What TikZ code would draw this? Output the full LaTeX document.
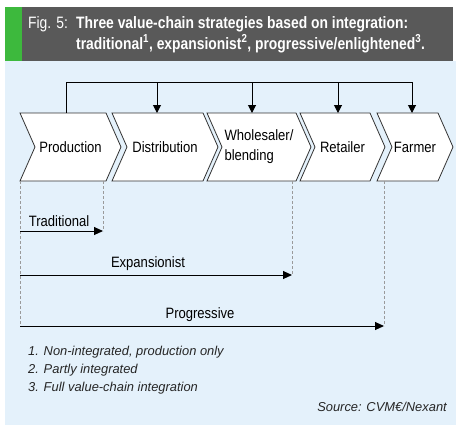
\documentclass[tikz,border=0pt]{standalone}
\usepackage{fontspec}
\setmainfont{Liberation Sans}
\newfontfamily\labf[FakeStretch=0.87]{Liberation Sans}
\newfontfamily\headf[FakeStretch=0.84]{Liberation Sans}
\usetikzlibrary{arrows.meta}
\definecolor{bgblue}{HTML}{E4F1FB}
\definecolor{hdgray}{HTML}{595959}
\definecolor{hdgreen}{HTML}{3DB93D}
\definecolor{dashgray}{HTML}{9A9A9A}
\definecolor{edgegray}{HTML}{333333}
\newcommand\chevron[5]{%
  \draw[chev] (#1,113) -- (#1+15,147) -- (#1,181) -- (#2,181) -- (#2+15,147) -- (#2,113) -- cycle;
  \node[lab,#5] (#3) at ({(#1+#2+15)/2},147) {#4};}
\begin{document}
\begin{tikzpicture}[x=1pt,y=-1pt,
  chev/.style={draw=edgegray, fill=white, line width=0.8pt, line join=miter},
  lab/.style={font=\labf\fontsize{15}{20}\selectfont, inner sep=0pt, align=center},
  feed/.style={draw=black, line width=1pt, -{Triangle[width=8pt,length=8pt]}},
  link/.style={draw=black, line width=1pt},
  span/.style={draw=black, line width=1pt, -{Triangle[width=8pt,length=9pt]}},
  guide/.style={draw=dashgray, dash pattern=on 3pt off 2pt, line width=0.7pt},
  note/.style={font=\itshape\fontsize{12.9}{15}\selectfont, inner sep=0pt, text=black!85},
  head/.style={font=\headf\fontsize{16.5}{20}\selectfont, text=white, inner sep=0pt, anchor=base west}]
\useasboundingbox (0,0) rectangle (458,429);
\fill[bgblue] (5,61) rectangle (456,425);
\fill[hdgreen] (5,7) rectangle (22,61);
\fill[hdgray] (22,7) rectangle (453,61);
\node[head] (fig) at (28,28) {Fig. 5:};
\node[head, font=\headf\bfseries\fontsize{16.5}{20}\selectfont] (t1) at (76,28) {Three value-chain strategies based on integration:};
\node[head, font=\headf\bfseries\fontsize{16.5}{20}\selectfont] (t2) at (76,49) {traditional\textsuperscript{1}, expansionist\textsuperscript{2}, progressive/enlightened\textsuperscript{3}.};
% chevrons
\chevron{20}{106}{prod}{Production}{}
\chevron{112}{203}{dist}{Distribution}{}
\chevron{207}{296}{whol}{Wholesaler/\\blending}{align=left}
\chevron{300}{370}{ret}{Retailer}{}
\chevron{377}{438}{farm}{Farmer}{}
% bracket connectors
\coordinate (pTop) at (66,113);
\coordinate (pJ) at (66,82);
\coordinate (dJ) at (157,82);
\coordinate (dTop) at (157,113);
\coordinate (wJ) at (252,82);
\coordinate (wTop) at (252,113);
\coordinate (rJ) at (338,82);
\coordinate (rTop) at (338,113);
\coordinate (fJ) at (412,82);
\coordinate (fTop) at (412,113);
\draw[link] (pTop) -- (pJ) -- (fJ);
\draw[feed] (dJ) -- (dTop);
\draw[feed] (wJ) -- (wTop);
\draw[feed] (rJ) -- (rTop);
\draw[feed] (fJ) -- (fTop);
% guides
\coordinate (g0a) at (20,181); \coordinate (g0b) at (20,326);
\coordinate (g1a) at (103,181); \coordinate (g1b) at (103,231);
\coordinate (g2a) at (292,181); \coordinate (g2b) at (292,275);
\coordinate (g3a) at (384,181); \coordinate (g3b) at (384,326);
\draw[guide] (g0a) -- (g0b);
\draw[guide] (g1a) -- (g1b);
\draw[guide] (g2a) -- (g2b);
\draw[guide] (g3a) -- (g3b);
% strategy spans
\coordinate (s1) at (20,231);
\coordinate (s2) at (20,275);
\coordinate (s3) at (20,326);
\draw[span] (s1) -- (g1b);
\draw[span] (s2) -- (g2b);
\draw[span] (s3) -- (g3b);
\node[lab] (trad) at (59,221) {Traditional};
\node[lab] (exp) at (148,264) {Expansionist};
\node[lab] (prog) at (200,315) {Progressive};
% notes
\node[note, anchor=west] (n1) at (28,352) {1. Non-integrated, production only};
\node[note, anchor=west] (n2) at (28,370) {2. Partly integrated};
\node[note, anchor=west] (n3) at (28,388) {3. Full value-chain integration};
\node[note, anchor=east] (src) at (447,407) {Source: CVM€/Nexant};
\end{tikzpicture}
\end{document}
